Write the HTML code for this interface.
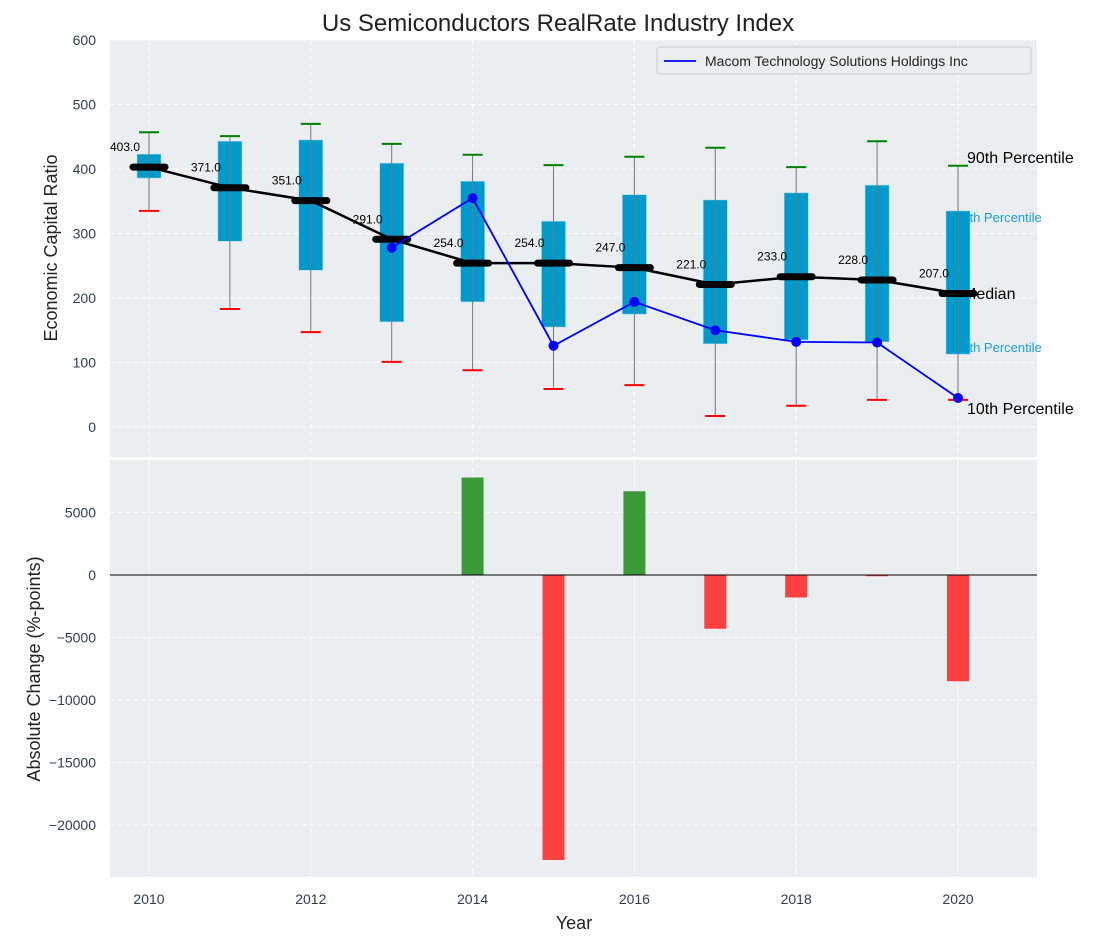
<!DOCTYPE html>
<html><head><meta charset="utf-8"><style>
body{margin:0;background:#fff;}
svg{display:block;font-family:"Liberation Sans","DejaVu Sans",sans-serif;}
</style></head><body>
<svg id="chart" width="1102" height="942"></svg>
<script>
const years=[2010,2011,2012,2013,2014,2015,2016,2017,2018,2019,2020];
const p90=[457,451,470,439,422,406,419,433,403,443,405];
const q75=[423,443,445,409,381,319,360,352,363,375,335];
const medians=[403,371,351,291,254,254,247,221,233,228,207];
const q25=[386,288,243,163,194,155,175,129,135,132,113];
const p10=[335,183,147,101,88,59,65,17,33,42,42];
const companyYears=[2013,2014,2015,2016,2017,2018,2019,2020];
const companyVals=[278,355,126,194,150,132,131,45];
const changeYears=[2014,2015,2016,2017,2018,2019,2020];
const changeVals=[7800,-22800,6700,-4300,-1800,-100,-8500];
const topTicks=[0,100,200,300,400,500,600];
const botTicks=[5000,0,-5000,-10000,-15000,-20000];
const xTicks=[2010,2012,2014,2016,2018,2020];

const NS="http://www.w3.org/2000/svg";
const svg=document.getElementById('chart');
function el(tag,attrs,parent){const e=document.createElementNS(NS,tag);for(const k in attrs)e.setAttribute(k,attrs[k]);(parent||svg).appendChild(e);return e;}
const L=110,R=1037;
const x=v=>149+(v-2010)*80.9;
const yT=v=>427-v*0.645;
const yB=v=>575-v*0.0125;
const tickCol="#2e3e50";

let p=el('rect',{x:L,y:40,width:R-L,height:417,fill:"#eaeef0"});


p=el('rect',{x:L,y:460,width:R-L,height:417,fill:"#eaeef0"});



for(const t of topTicks){
  const g=el('line',{x1:L,x2:R,y1:yT(t),y2:yT(t),stroke:"#fff","stroke-dasharray":"5,3","stroke-width":1});
  
  
  const tx=el('text',{x:96,y:yT(t)+5,"text-anchor":"end","font-size":14,fill:tickCol});
  tx.textContent=t;
  
  
}
for(const t of botTicks){
  const g=el('line',{x1:L,x2:R,y1:yB(t),y2:yB(t),stroke:"#fff","stroke-dasharray":"5,3","stroke-width":1});
  
  
  const tx=el('text',{x:96,y:yB(t)+5,"text-anchor":"end","font-size":14,fill:tickCol});
  tx.textContent=t<0?'\u2212'+(-t):t;
  
  
}
for(const t of xTicks){
  for(const [a,b] of [[40,457],[460,877]]){
    const g=el('line',{x1:x(t),x2:x(t),y1:a,y2:b,stroke:"#fff","stroke-dasharray":"5,3"});
    
    
  }
  const tx=el('text',{x:x(t),y:904,"text-anchor":"middle","font-size":14,fill:tickCol});
  tx.textContent=t;
  
  
}

const last=years.length-1, ax=x(2020);
[["90th Percentile",p90[last],16,"#000",9,-3],["75th Percentile",q75[last],13,"#1a9fd0",-3,11],["Median",medians[last],16,"#000",5,5.5],["25th Percentile",q25[last],13,"#1a9fd0",-3,-2],["10th Percentile",p10[last],16,"#000",9,14]].forEach(([s,v,fs,c,dx,dy])=>{
  const t=el('text',{x:ax+dx,y:yT(v)+dy,"font-size":fs,fill:c});
  t.textContent=s;
  
  
});

years.forEach((yr,i)=>{
  const cx=x(yr);
  const b=el('rect',{x:cx-12,y:yT(q75[i]),width:24,height:yT(q25[i])-yT(q75[i]),fill:"#0099cc",stroke:"#9fd8ec","stroke-width":0.5});
  
  
  const w=el('line',{x1:cx,x2:cx,y1:yT(p90[i]),y2:yT(p10[i]),stroke:"#777","stroke-width":1});
  
  
  const c1=el('line',{x1:cx-10,x2:cx+10,y1:yT(p90[i]),y2:yT(p90[i]),stroke:"green","stroke-width":2});
  
  
  const c2=el('line',{x1:cx-10,x2:cx+10,y1:yT(p10[i]),y2:yT(p10[i]),stroke:"red","stroke-width":2});
  
  
});
const ml=el('polyline',{points:years.map((yr,i)=>x(yr)+','+yT(medians[i])).join(' '),fill:"none",stroke:"#000","stroke-width":2.5});


years.forEach((yr,i)=>{
  const m=el('line',{x1:x(yr)-16,x2:x(yr)+16,y1:yT(medians[i]),y2:yT(medians[i]),stroke:"#000","stroke-width":7,"stroke-linecap":"round"});
  
  
  const t=el('text',{x:x(yr)-24,y:yT(medians[i])-16,"text-anchor":"middle","font-size":12,fill:"#000"});
  t.textContent=medians[i].toFixed(1);
  
  
});
const cl=el('polyline',{points:companyYears.map((yr,i)=>x(yr)+','+yT(companyVals[i])).join(' '),fill:"none",stroke:"blue","stroke-width":1.8});


companyYears.forEach((yr,i)=>{
  const c=el('circle',{cx:x(yr),cy:yT(companyVals[i]),r:5,fill:"blue"});
  
  
});

const lg=el('g',{});


el('rect',{x:657,y:47,width:374,height:27,rx:3,fill:"#eaeef0",stroke:"#ccc"},lg);
el('line',{x1:664,x2:696,y1:61,y2:61,stroke:"blue","stroke-width":1.8},lg);
const lt=el('text',{x:705,y:66,"font-size":14,fill:"#222"},lg);
lt.textContent="Macom Technology Solutions Holdings Inc";



changeYears.forEach((yr,i)=>{
  const v=changeVals[i];
  const b=el('rect',{x:x(yr)-11,y:Math.min(yB(v),yB(0)),width:22,height:Math.max(1,Math.abs(yB(v)-yB(0))),fill:v>=0?"#3a9a3a":"#ff4040"});
  
  
});
const zl=el('line',{x1:L,x2:R,y1:yB(0),y2:yB(0),stroke:"#000","stroke-width":1});



function txt(s,attrs,name){const t=el('text',attrs);t.textContent=s;}
txt("Us Semiconductors RealRate Industry Index",{x:558,y:31,"text-anchor":"middle","font-size":24,fill:"#222"},'chart-title');
txt("Economic Capital Ratio",{x:0,y:0,transform:"translate(57,248) rotate(-90)","text-anchor":"middle","font-size":18,fill:"#222"},'top-y-axis-title');
txt("Absolute Change (%-points)",{x:0,y:0,transform:"translate(40,669) rotate(-90)","text-anchor":"middle","font-size":18,fill:"#222"},'bottom-y-axis-title');
txt("Year",{x:574,y:929,"text-anchor":"middle","font-size":18,fill:"#222"},'x-axis-title');
</script>
</body></html>
